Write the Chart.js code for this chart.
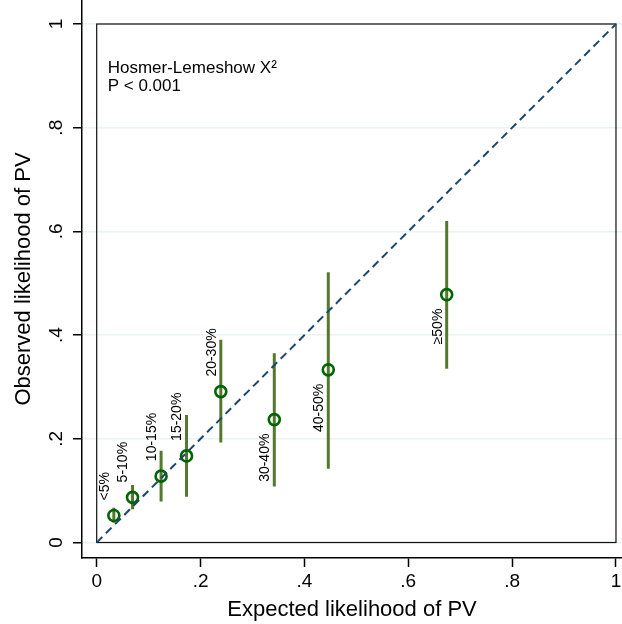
<!DOCTYPE html>
<html>
<head>
<meta charset="utf-8">
<script src="https://cdn.jsdelivr.net/npm/chart.js@4"></script>
<style>
  html, body { margin: 0; padding: 0; background: #fff; overflow: hidden; }
  #wrap { width: 622px; height: 624px; }
</style>
</head>
<body>
<div id="wrap"><canvas id="c"></canvas></div>
<script>
// risk groups and calibration values
const groupLabels = ['<5%', '5-10%', '10-15%', '15-20%', '20-30%', '30-40%', '40-50%', '≥50%'];
const expected = [0.033, 0.069, 0.124, 0.173, 0.239, 0.342, 0.446, 0.674];
const observed = [0.052, 0.087, 0.128, 0.167, 0.291, 0.237, 0.333, 0.478];
const ciLower = [0.038, 0.064, 0.079, 0.088, 0.193, 0.108, 0.142, 0.335];
const ciUpper = [0.067, 0.111, 0.177, 0.246, 0.391, 0.365, 0.521, 0.620];

const xTicks = [0, 0.2, 0.4, 0.6, 0.8, 1];
const xTickLabels = ['0', '.2', '.4', '.6', '.8', '1'];
const yTicks = [0, 0.2, 0.4, 0.6, 0.8, 1];
const yTickLabels = ['0', '.2', '.4', '.6', '.8', '1'];

// label placement (above or below the marker)
const labelSide = ['above', 'above', 'above', 'above', 'above', 'below', 'below', 'below'];

const FONT = '"Liberation Sans", Arial, Helvetica, sans-serif';

// confidence interval segments, broken by null points
const ciData = [];
expected.forEach((e, i) => {
  ciData.push({x: e, y: ciLower[i]});
  ciData.push({x: e, y: ciUpper[i]});
  ciData.push({x: e, y: null});
});

const pointData = expected.map((e, i) => ({x: e, y: observed[i]}));

// inner box round the 0..1 region, drawn from the scales
const boxPlugin = {
  id: 'box',
  beforeDatasetsDraw(chart) {
    const {ctx, scales: {x, y}} = chart;
    const x0 = x.getPixelForValue(0), x1 = x.getPixelForValue(1);
    const y0 = y.getPixelForValue(0), y1 = y.getPixelForValue(1);
    ctx.save();
    ctx.strokeStyle = '#111';
    ctx.lineWidth = 1.2;
    ctx.strokeRect(x0, y1, x1 - x0, y0 - y1);
    ctx.restore();
  }
};

// vertical marker labels + the Hosmer-Lemeshow note
const labelPlugin = {
  id: 'labels',
  afterDatasetsDraw(chart) {
    const {ctx, scales: {x, y}} = chart;
    ctx.save();
    ctx.fillStyle = '#000';
    ctx.font = '14px ' + FONT;
    ctx.textBaseline = 'middle';
    groupLabels.forEach((lab, i) => {
      const px = x.getPixelForValue(expected[i]);
      const py = y.getPixelForValue(observed[i]);
      ctx.save();
      if (labelSide[i] === 'above') {
        ctx.translate(px - 9, py - 15);
        ctx.textAlign = 'left';
      } else {
        ctx.translate(px - 9, py + 14);
        ctx.textAlign = 'right';
      }
      ctx.rotate(-Math.PI / 2);
      ctx.fillText(lab, 0, 0);
      ctx.restore();
    });

    const left = x.getPixelForValue(0) + 11;
    const top = y.getPixelForValue(1);
    ctx.font = '17px ' + FONT;
    ctx.textAlign = 'left';
    ctx.textBaseline = 'alphabetic';
    ctx.fillText('Hosmer-Lemeshow X²', left, top + 49);
    ctx.fillText('P < 0.001', left, top + 67);
    ctx.restore();
  }
};

function noPad(scale) {
  scale.paddingTop = 0;
  scale.paddingBottom = 0;
  scale.paddingLeft = 0;
  scale.paddingRight = 0;
}

new Chart(document.getElementById('c'), {
  type: 'scatter',
  data: {
    datasets: [
      {
        label: 'reference',
        data: [{x: 0, y: 0}, {x: 1, y: 1}],
        showLine: true,
        borderColor: '#1a476f',
        borderWidth: 2,
        borderDash: [8, 5],
        pointRadius: 0,
        order: 0
      },
      {
        label: 'observed',
        data: pointData,
        pointStyle: 'circle',
        pointRadius: 5.5,
        pointBorderWidth: 2.6,
        pointBorderColor: '#006400',
        pointBackgroundColor: 'rgba(0,0,0,0)',
        order: 1
      },
      {
        label: '95% CI',
        data: ciData,
        showLine: true,
        spanGaps: false,
        borderColor: '#55782f',
        borderWidth: 3,
        pointRadius: 0,
        order: 2
      }
    ]
  },
  options: {
    responsive: true,
    maintainAspectRatio: false,
    animation: false,
    layout: { padding: 0, autoPadding: false },
    plugins: {
      legend: { display: false },
      tooltip: { enabled: false }
    },
    scales: {
      x: {
        type: 'linear',
        min: -0.0283,
        max: 1.0116,
        afterBuildTicks: s => { s.ticks = xTicks.map(v => ({value: v})); },
        afterFit: s => { s.height = 66; noPad(s); },
        ticks: {
          callback: (v, i) => xTickLabels[i],
          color: '#000',
          font: { family: FONT, size: 19 },
          padding: 3,
          maxRotation: 0,
          autoSkip: false
        },
        grid: {
          drawOnChartArea: false,
          drawTicks: true,
          tickLength: 9,
          tickColor: '#000',
          tickWidth: 1.5
        },
        border: { display: true, color: '#000', width: 1.5 },
        title: {
          display: true,
          text: 'Expected likelihood of PV',
          color: '#000',
          font: { family: FONT, size: 22, lineHeight: 1 },
          padding: { top: 0, bottom: 3 }
        }
      },
      y: {
        type: 'linear',
        min: -0.0299,
        max: 1.0463,
        afterBuildTicks: s => { s.ticks = yTicks.map(v => ({value: v})); },
        afterFit: s => { s.width = 82; noPad(s); },
        ticks: {
          callback: (v, i) => yTickLabels[i],
          color: '#000',
          font: { family: FONT, size: 19 },
          padding: 8,
          minRotation: 90,
          maxRotation: 90,
          crossAlign: 'center',
          autoSkip: false
        },
        grid: {
          color: '#eaf2f3',
          lineWidth: 1.5,
          drawTicks: true,
          tickLength: 9,
          tickColor: '#000',
          tickWidth: 1.5
        },
        border: { display: true, color: '#000', width: 1.5 },
        title: {
          display: true,
          text: 'Observed likelihood of PV',
          color: '#000',
          font: { family: FONT, size: 22, lineHeight: 1 },
          padding: { top: 13, bottom: 0 }
        }
      }
    }
  },
  plugins: [boxPlugin, labelPlugin]
});
</script>
</body>
</html>
